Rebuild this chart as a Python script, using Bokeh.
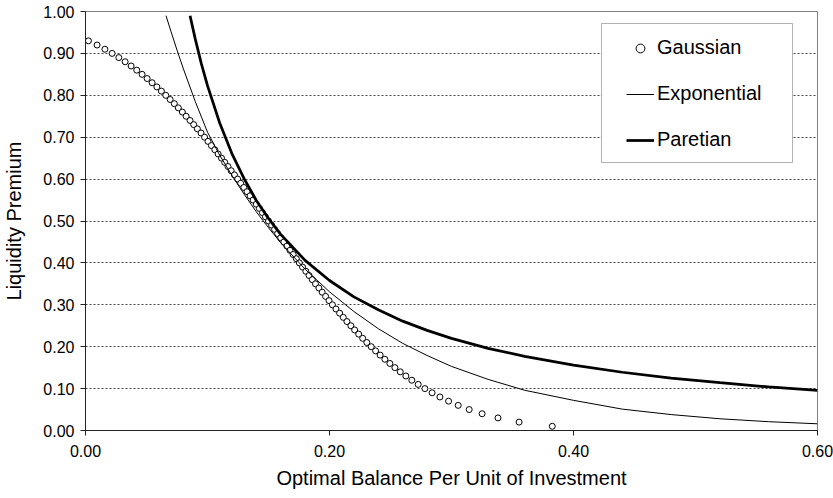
from bokeh.plotting import figure
from bokeh.models import (Range1d, FixedTicker, Legend, LegendItem, BoxAnnotation,
                          NumeralTickFormatter)
from bokeh.embed import file_html
from bokeh.resources import INLINE

# ---------------- data ----------------
gauss_y = [0.93, 0.92, 0.91, 0.90, 0.89, 0.88, 0.87, 0.86, 0.85, 0.84, 0.83, 0.82, 0.81,
           0.80, 0.79, 0.78, 0.77, 0.76, 0.75, 0.74, 0.73, 0.72, 0.71, 0.70, 0.69, 0.68,
           0.67, 0.66, 0.65, 0.64, 0.63, 0.62, 0.61, 0.60, 0.59, 0.58, 0.57, 0.56, 0.55,
           0.54, 0.53, 0.52, 0.51, 0.50, 0.49, 0.48, 0.47, 0.46, 0.45, 0.44, 0.43, 0.42,
           0.41, 0.40, 0.39, 0.38, 0.37, 0.36, 0.35, 0.34, 0.33, 0.32, 0.31, 0.30, 0.29,
           0.28, 0.27, 0.26, 0.25, 0.24, 0.23, 0.22, 0.21, 0.20, 0.19, 0.18, 0.17, 0.16,
           0.15, 0.14, 0.13, 0.12, 0.11, 0.10, 0.09, 0.08, 0.07, 0.06, 0.05, 0.04, 0.03,
           0.02, 0.01]
gauss_x = [0.0024, 0.0095, 0.0159, 0.0218, 0.0273, 0.0325, 0.0374, 0.0420, 0.0464, 0.0505,
           0.0546, 0.0585, 0.0622, 0.0658, 0.0694, 0.0728, 0.0761, 0.0794, 0.0825, 0.0857,
           0.0887, 0.0917, 0.0947, 0.0976, 0.1004, 0.1032, 0.1060, 0.1087, 0.1115, 0.1141,
           0.1168, 0.1194, 0.1221, 0.1247, 0.1272, 0.1298, 0.1324, 0.1349, 0.1374, 0.1400,
           0.1425, 0.1450, 0.1475, 0.1500, 0.1525, 0.1550, 0.1575, 0.1600, 0.1626, 0.1651,
           0.1676, 0.1702, 0.1728, 0.1753, 0.1779, 0.1806, 0.1832, 0.1859, 0.1885, 0.1913,
           0.1940, 0.1968, 0.1996, 0.2024, 0.2053, 0.2083, 0.2113, 0.2143, 0.2175, 0.2206,
           0.2239, 0.2272, 0.2306, 0.2342, 0.2378, 0.2415, 0.2454, 0.2495, 0.2536, 0.2580,
           0.2626, 0.2675, 0.2727, 0.2782, 0.2841, 0.2905, 0.2976, 0.3055, 0.3145, 0.3251,
           0.3381, 0.3554, 0.3826]

exp_x = [0.066, 0.07, 0.075, 0.08, 0.09, 0.10, 0.11, 0.12, 0.13, 0.14, 0.15, 0.16, 0.18,
         0.20, 0.22, 0.24, 0.26, 0.28, 0.30, 0.33, 0.36, 0.40, 0.44, 0.48, 0.52, 0.56, 0.60]
exp_y = [0.990, 0.953, 0.908, 0.865, 0.785, 0.712, 0.657, 0.609, 0.564, 0.522, 0.484, 0.448,
         0.385, 0.331, 0.284, 0.243, 0.208, 0.179, 0.153, 0.122, 0.096, 0.072, 0.051, 0.038,
         0.028, 0.021, 0.016]

par_x = [0.0857, 0.09, 0.095, 0.10, 0.11, 0.12, 0.13, 0.14, 0.15, 0.16, 0.18, 0.20, 0.22,
         0.24, 0.26, 0.28, 0.30, 0.33, 0.36, 0.40, 0.44, 0.48, 0.52, 0.56, 0.60]
par_y = [0.990, 0.934, 0.875, 0.823, 0.734, 0.661, 0.601, 0.549, 0.506, 0.468, 0.406, 0.358,
         0.319, 0.288, 0.261, 0.239, 0.220, 0.196, 0.177, 0.156, 0.139, 0.125, 0.114, 0.104,
         0.096]

x_ticks = [0.0, 0.2, 0.4, 0.6]
y_ticks = [0.0, 0.1, 0.2, 0.3, 0.4, 0.5, 0.6, 0.7, 0.8, 0.9, 1.0]
series_names = ["Gaussian", "Exponential", "Paretian"]
x_title = "Optimal Balance Per Unit of Investment"
y_title = "Liquidity Premium"

FONT = "Liberation Sans"

p = figure(width=833, height=496, x_range=Range1d(0, 0.6), y_range=Range1d(0, 1),
           output_backend="svg", toolbar_location=None,
           min_border_left=82, min_border_right=16, min_border_top=11, min_border_bottom=66)
p.background_fill_color = "white"
p.border_fill_color = "white"
p.outline_line_color = "#808080"
p.outline_line_width = 1

# axes
for ax in (p.xaxis[0], p.yaxis[0]):
    ax.axis_line_color = "#222222"
    ax.major_tick_line_color = "#222222"
    ax.major_tick_out = 5
    ax.major_tick_in = 0
    ax.minor_tick_out = 0
    ax.minor_tick_in = 0
    ax.major_label_text_font = FONT
    ax.major_label_text_font_size = "16px"
    ax.major_label_text_color = "black"
    ax.axis_label_text_font = FONT
    ax.axis_label_text_font_size = "20px"
    ax.axis_label_text_font_style = "normal"
    ax.axis_label_text_color = "black"
    ax.formatter = NumeralTickFormatter(format="0.00")

p.xaxis[0].ticker = FixedTicker(ticks=x_ticks)
p.yaxis[0].ticker = FixedTicker(ticks=y_ticks)
p.xaxis[0].axis_label = x_title
p.yaxis[0].axis_label = y_title
p.xaxis[0].major_label_standoff = 9
p.xaxis[0].axis_label_standoff = 7
p.yaxis[0].major_label_standoff = 6
p.yaxis[0].axis_label_standoff = 15

p.xgrid.grid_line_color = None
p.ygrid.ticker = FixedTicker(ticks=y_ticks)
p.ygrid.grid_line_color = "#444444"
p.ygrid.grid_line_dash = "2 2"
p.ygrid.grid_line_width = 1

# series
g = p.scatter(gauss_x, gauss_y, marker="circle", size=6, fill_color="white",
              line_color="black", line_width=1)
e = p.line(exp_x, exp_y, line_color="black", line_width=1)
pr = p.line(par_x, par_y, line_color="black", line_width=2.75)

# legend box (canvas pixels)
box = BoxAnnotation(left=601, right=792, top=23, bottom=162,
                    left_units="canvas", right_units="canvas",
                    top_units="canvas", bottom_units="canvas",
                    fill_color="white", fill_alpha=1.0,
                    line_color="black", line_width=1)
p.add_layout(box)

legend = Legend(items=[LegendItem(label=series_names[0], renderers=[g]),
                       LegendItem(label=series_names[1], renderers=[e]),
                       LegendItem(label=series_names[2], renderers=[pr])],
                location=(541, 279), padding=0, margin=0, spacing=23,
                label_height=22, glyph_height=22, glyph_width=28, label_standoff=3,
                border_line_alpha=0, background_fill_alpha=0,
                label_text_font=FONT, label_text_font_size="20px",
                label_text_color="black")
p.add_layout(legend)

open("out.html", "w").write(file_html(p, INLINE))
